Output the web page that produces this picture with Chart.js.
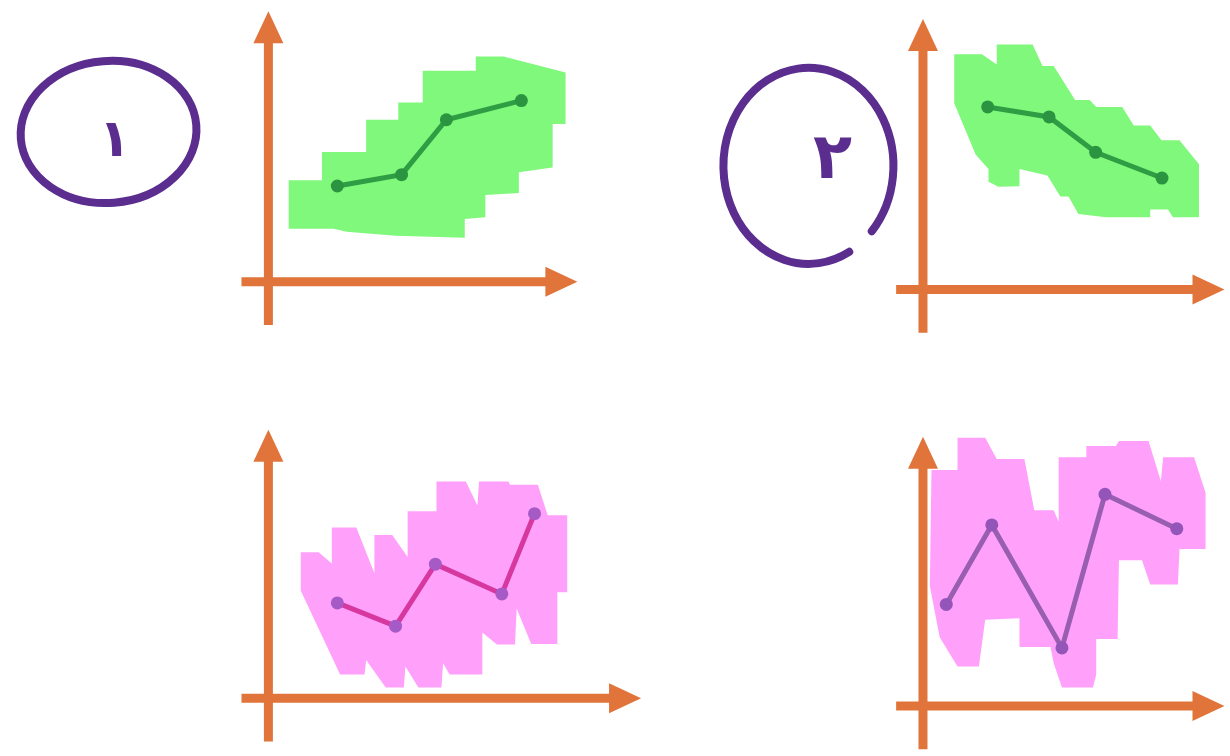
<!DOCTYPE html>
<html>
<head>
<meta charset="utf-8">
<script src="https://cdn.jsdelivr.net/npm/chart.js@4.4.1/dist/chart.umd.min.js"></script>
<style>
  html, body { margin: 0; background: #fff; }
  #wrap { position: relative; width: 1230px; height: 756px; overflow: hidden; }
  canvas { position: absolute; }
</style>
</head>
<body>
<div id="wrap">
  <canvas id="c1" width="680" height="378"></canvas>
  <canvas id="c2" width="615" height="378"></canvas>
  <canvas id="c3" width="680" height="378"></canvas>
  <canvas id="c4" width="615" height="378"></canvas>
</div>
<script>
// line points (sketch units, origin at the axes crossing)
const line1X = [2.51, 4.85, 6.48, 9.21];
const line1Y = [3.54, 3.96, 5.99, 6.70];
const line2X = [2.36, 4.60, 6.30, 8.72];
const line2Y = [6.75, 6.38, 5.07, 4.12];
const line3X = [2.51, 4.63, 6.08, 8.50, 9.69];
const line3Y = [3.53, 2.67, 4.96, 3.86, 6.83];
const line4X = [0.85, 2.51, 5.07, 6.64, 9.26];
const line4Y = [3.76, 6.70, 2.15, 7.83, 6.56];

// highlighter outlines behind each line
const blob1 = [[0.74,3.75],[1.95,3.75],[1.95,4.80],[3.56,4.80],[3.56,5.99],[4.73,5.99],[4.73,6.63],[5.62,6.63],[5.62,7.80],[7.55,7.80],[7.55,8.33],[8.56,8.33],[10.82,7.74],[10.82,5.83],[10.35,5.83],[10.35,4.22],[9.12,4.05],[9.12,3.28],[7.90,3.21],[7.90,2.38],[7.15,2.32],[7.15,1.63],[4.63,1.70],[2.85,1.85],[2.37,1.96],[0.74,1.96]];
const blob2 = [[1.14,8.70],[2.15,8.70],[2.69,8.32],[2.69,9.06],[4.00,9.06],[4.36,8.26],[4.77,8.26],[5.55,7.01],[6.08,7.01],[6.32,6.75],[7.27,6.75],[7.69,6.06],[8.29,6.06],[8.70,5.52],[9.36,5.52],[10.07,4.63],[10.07,2.67],[9.12,2.67],[8.94,2.96],[8.29,2.96],[8.29,2.67],[6.68,2.67],[5.67,2.79],[5.31,3.44],[5.01,3.44],[4.54,4.21],[3.52,4.45],[3.52,3.82],[2.75,3.80],[2.39,3.98],[2.39,4.45],[1.92,4.99],[1.14,6.89]];
const blob3 = [[1.18,5.40],[1.83,5.40],[2.31,4.99],[2.31,6.32],[3.20,6.32],[3.86,4.63],[3.86,6.04],[4.51,6.04],[5.07,5.23],[5.07,6.92],[6.12,6.92],[6.12,8.02],[7.19,8.02],[7.61,7.13],[7.67,8.02],[8.74,8.02],[8.80,7.90],[9.81,7.90],[10.17,6.77],[10.88,6.77],[10.88,3.92],[10.52,3.92],[10.52,2.01],[9.57,2.01],[9.04,3.32],[8.98,1.99],[8.32,1.99],[7.79,2.43],[7.79,0.88],[6.60,0.88],[6.36,1.30],[6.30,0.40],[5.46,0.40],[4.99,1.18],[4.93,0.40],[4.27,0.40],[3.56,1.42],[3.50,0.88],[2.61,0.88],[1.18,3.98]];
const blob4 = [[0.31,8.73],[1.26,8.73],[1.26,9.92],[2.27,9.92],[2.69,9.14],[3.70,9.14],[4.06,7.24],[4.77,7.24],[4.95,6.82],[4.95,9.20],[5.96,9.20],[5.96,9.62],[7.04,9.62],[7.15,9.80],[8.23,9.80],[8.68,8.31],[8.76,9.20],[9.89,9.20],[10.31,7.89],[10.31,5.81],[9.36,5.81],[9.30,4.50],[8.29,4.50],[7.99,5.39],[7.15,5.39],[7.10,2.48],[6.32,2.48],[6.32,1.17],[6.20,0.69],[5.07,0.69],[4.77,1.58],[4.65,2.18],[3.52,2.18],[3.52,3.25],[2.27,3.19],[2.04,1.46],[1.26,1.46],[0.61,2.54],[0.25,4.44]];

const circleLabels = ["۱", "۲"];

const PX = 28; // pixels per sketch unit
const ORANGE = "#e0743a";
const PURPLE = "#5a2d8f";

const sketch = {
  id: "sketch",
  beforeDatasetsDraw(chart, args, o) {
    const { ctx, scales: { x, y } } = chart;
    const x0 = x.getPixelForValue(0), y0 = y.getPixelForValue(0);
    const xl = x.getPixelForValue(-0.98), xr = x.getPixelForValue(o.xTip);
    const yb = y.getPixelForValue(-1.6), yt = y.getPixelForValue(o.yTip);
    ctx.save();
    ctx.strokeStyle = ORANGE;
    ctx.fillStyle = ORANGE;
    ctx.lineWidth = 9;
    ctx.beginPath();
    ctx.moveTo(xl, y0); ctx.lineTo(xr - 28, y0);
    ctx.moveTo(x0, yb); ctx.lineTo(x0, yt + 28);
    ctx.stroke();
    ctx.beginPath();
    ctx.moveTo(xr, y0); ctx.lineTo(xr - 32, y0 - 15); ctx.lineTo(xr - 32, y0 + 15);
    ctx.closePath(); ctx.fill();
    ctx.beginPath();
    ctx.moveTo(x0, yt); ctx.lineTo(x0 - 15, yt + 32); ctx.lineTo(x0 + 15, yt + 32);
    ctx.closePath(); ctx.fill();
    ctx.restore();
  },
  afterDraw(chart, args, o) {
    if (!o.circle) return;
    const { ctx, scales: { x, y } } = chart;
    const c = o.circle;
    const cx = x.getPixelForValue(c.x), cy = y.getPixelForValue(c.y);
    ctx.save();
    ctx.strokeStyle = PURPLE;
    ctx.fillStyle = PURPLE;
    ctx.lineWidth = 8;
    ctx.lineCap = "round";
    ctx.beginPath();
    ctx.ellipse(cx, cy, c.rx, c.ry, c.rot, c.from, c.to);
    ctx.stroke();
    ctx.font = "bold " + c.size + "px 'DejaVu Sans'";
    ctx.textAlign = "center";
    ctx.textBaseline = "middle";
    ctx.fillText(c.label, x.getPixelForValue(c.tx), y.getPixelForValue(c.ty));
    ctx.restore();
  }
};

function makeChart(p) {
  const cv = document.getElementById(p.id);
  cv.style.left = p.left + "px";
  cv.style.top = p.top + "px";
  const w = cv.width, h = cv.height;
  new Chart(cv, {
    type: "line",
    data: {
      datasets: [
        {
          data: p.xs.map((v, i) => ({ x: v, y: p.ys[i] })),
          borderColor: p.line,
          borderWidth: 5,
          pointRadius: 6.5,
          pointBorderWidth: 0,
          pointBackgroundColor: p.dot,
          fill: false
        },
        {
          data: p.blob.map(([bx, by]) => ({ x: bx, y: by })),
          borderColor: "rgba(0,0,0,0)",
          borderWidth: 0,
          pointRadius: 0,
          backgroundColor: p.glow,
          fill: "shape"
        }
      ]
    },
    options: {
      responsive: false,
      animation: false,
      events: [],
      layout: { padding: 0 },
      plugins: {
        legend: { display: false },
        tooltip: { enabled: false },
        sketch: { xTip: p.xTip, yTip: p.yTip, circle: p.circle }
      },
      scales: {
        x: { type: "linear", display: false, min: -p.ox / PX, max: (w - p.ox) / PX },
        y: { type: "linear", display: false, min: -(h - p.oy) / PX, max: p.oy / PX }
      }
    },
    plugins: [sketch]
  });
}

const GREEN = "#80f87b", PINK = "#ffa0fb";

makeChart({ id: "c1", left: 0, top: 0, ox: 267, oy: 285, xTip: 11.25, yTip: 10,
  xs: line1X, ys: line1Y, blob: blob1, glow: GREEN, line: "#2e9d44", dot: "#2a9441",
  circle: { x: -5.82, y: 5.54, rx: 88, ry: 71, rot: -0.08, from: 0, to: Math.PI * 2,
            label: circleLabels[0], tx: -5.6, ty: 5.15, size: 52 } });
makeChart({ id: "c2", left: 615, top: 0, ox: 308, oy: 293, xTip: 11, yTip: 10,
  xs: line2X, ys: line2Y, blob: blob2, glow: GREEN, line: "#2e9d44", dot: "#2a9441",
  circle: { x: -4.18, y: 4.57, rx: 85, ry: 98, rot: 0, from: 1.07, to: 0.73 + Math.PI * 2,
            label: circleLabels[1], tx: -3.3, ty: 4.75, size: 64 } });
makeChart({ id: "c3", left: 0, top: 378, ox: 267, oy: 325, xTip: 13.57, yTip: 9.93,
  xs: line3X, ys: line3Y, blob: blob3, glow: PINK, line: "#d6389f", dot: "#a65ac6" });
makeChart({ id: "c4", left: 615, top: 378, ox: 308, oy: 333, xTip: 11, yTip: 9.96,
  xs: line4X, ys: line4Y, blob: blob4, glow: PINK, line: "#985fb1", dot: "#9455b9" });
</script>
</body>
</html>
